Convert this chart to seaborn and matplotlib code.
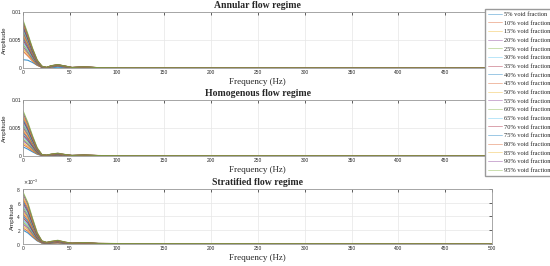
"""
Amplitude spectra of the pressure signal for three flow regimes.
"""

import matplotlib
matplotlib.use("Agg")
import matplotlib.pyplot as plt
import matplotlib.ticker as mticker
import seaborn as sns
import pandas as pd

# frequency sample points (Hz)
freq = [0, 5, 10, 15, 20, 25, 30, 37, 45, 52, 65, 80, 110, 500]

void_labels = [f"{v}% void fraction" for v in range(5, 100, 5)]

# amplitudes in units of 1e-4, one row per void fraction (5% ... 95%)
annular = [
    [15, 14.0, 10.0, 5.0, 1.5, 0.3, 0.8, 1.5, 0.8, 0.2, 0.4, 0.1, 0.1, 0.0],
    [30, 21.6, 12.6, 5.1, 1.2, 0.5, 2.0, 3.5, 2.0, 0.5, 1.0, 0.4, 0.2, 0.1],
    [34, 24.5, 14.3, 5.8, 1.4, 0.5, 2.2, 3.7, 2.1, 0.5, 1.1, 0.4, 0.2, 0.1],
    [38, 27.4, 16.0, 6.5, 1.5, 0.6, 2.4, 3.9, 2.2, 0.6, 1.2, 0.4, 0.2, 0.1],
    [42, 30.2, 17.6, 7.1, 1.7, 0.6, 2.6, 4.1, 2.3, 0.6, 1.3, 0.5, 0.2, 0.1],
    [46, 33.1, 19.3, 7.8, 1.8, 0.7, 2.8, 4.3, 2.4, 0.7, 1.4, 0.5, 0.2, 0.1],
    [50, 36.0, 21.0, 8.5, 2.0, 0.7, 3.0, 4.5, 2.5, 0.7, 1.5, 0.5, 0.3, 0.1],
    [54, 38.9, 22.7, 9.2, 2.2, 0.8, 3.2, 4.7, 2.6, 0.8, 1.6, 0.6, 0.3, 0.1],
    [57, 41.0, 23.9, 9.7, 2.3, 0.8, 3.3, 4.9, 2.7, 0.8, 1.7, 0.6, 0.3, 0.1],
    [60, 43.2, 25.2, 10.2, 2.4, 0.9, 3.4, 5.0, 2.8, 0.8, 1.7, 0.6, 0.3, 0.1],
    [63, 45.4, 26.5, 10.7, 2.5, 0.9, 3.5, 5.2, 2.9, 0.9, 1.8, 0.6, 0.3, 0.1],
    [66, 47.5, 27.7, 11.2, 2.6, 0.9, 3.6, 5.3, 3.0, 0.9, 1.8, 0.7, 0.3, 0.1],
    [69, 49.7, 29.0, 11.7, 2.8, 1.0, 3.7, 5.5, 3.1, 0.9, 1.9, 0.7, 0.3, 0.1],
    [72, 51.8, 30.2, 12.2, 2.9, 1.0, 3.8, 5.6, 3.2, 1.0, 1.9, 0.7, 0.3, 0.1],
    [75, 54.0, 31.5, 12.8, 3.0, 1.0, 3.9, 5.8, 3.3, 1.0, 2.0, 0.7, 0.3, 0.1],
    [78, 56.2, 32.8, 13.3, 3.1, 1.1, 4.0, 5.9, 3.4, 1.0, 2.0, 0.8, 0.3, 0.1],
    [80, 57.6, 33.6, 13.6, 3.2, 1.1, 4.1, 6.0, 3.5, 1.1, 2.1, 0.8, 0.4, 0.1],
    [82, 59.0, 34.4, 13.9, 3.3, 1.1, 4.2, 6.1, 3.5, 1.1, 2.1, 0.8, 0.4, 0.1],
    [85, 61.2, 35.7, 14.5, 3.4, 1.2, 4.3, 6.3, 3.6, 1.1, 2.2, 0.8, 0.4, 0.1],
]

homogenous = [
    [16, 12.0, 7.2, 2.9, 0.5, 0.2, 0.6, 1.0, 0.5, 0.2, 0.3, 0.1, 0.1, 0.0],
    [20, 15.0, 9.0, 3.6, 0.6, 0.3, 0.8, 1.2, 0.6, 0.2, 0.4, 0.2, 0.1, 0.0],
    [23, 17.3, 10.4, 4.1, 0.7, 0.3, 0.9, 1.4, 0.7, 0.2, 0.5, 0.2, 0.1, 0.0],
    [27, 20.3, 12.2, 4.9, 0.8, 0.4, 1.1, 1.6, 0.8, 0.3, 0.5, 0.2, 0.1, 0.0],
    [30, 22.5, 13.5, 5.4, 0.9, 0.5, 1.2, 1.8, 0.9, 0.3, 0.6, 0.2, 0.1, 0.0],
    [34, 25.5, 15.3, 6.1, 1.0, 0.5, 1.4, 2.0, 1.0, 0.3, 0.7, 0.3, 0.1, 0.0],
    [37, 27.8, 16.7, 6.7, 1.1, 0.6, 1.5, 2.2, 1.1, 0.4, 0.7, 0.3, 0.1, 0.0],
    [41, 30.8, 18.5, 7.4, 1.2, 0.6, 1.6, 2.5, 1.2, 0.4, 0.8, 0.3, 0.2, 0.0],
    [44, 33.0, 19.8, 7.9, 1.3, 0.7, 1.8, 2.6, 1.3, 0.4, 0.9, 0.4, 0.2, 0.0],
    [48, 36.0, 21.6, 8.6, 1.4, 0.7, 1.9, 2.9, 1.4, 0.5, 1.0, 0.4, 0.2, 0.0],
    [51, 38.3, 23.0, 9.2, 1.5, 0.8, 2.0, 3.1, 1.5, 0.5, 1.0, 0.4, 0.2, 0.1],
    [55, 41.3, 24.8, 9.9, 1.7, 0.8, 2.2, 3.3, 1.7, 0.6, 1.1, 0.4, 0.2, 0.1],
    [58, 43.5, 26.1, 10.4, 1.7, 0.9, 2.3, 3.5, 1.7, 0.6, 1.2, 0.5, 0.2, 0.1],
    [62, 46.5, 27.9, 11.2, 1.9, 0.9, 2.5, 3.7, 1.9, 0.6, 1.2, 0.5, 0.2, 0.1],
    [65, 48.8, 29.3, 11.7, 2.0, 1.0, 2.6, 3.9, 2.0, 0.7, 1.3, 0.5, 0.3, 0.1],
    [69, 51.8, 31.1, 12.4, 2.1, 1.0, 2.8, 4.1, 2.1, 0.7, 1.4, 0.6, 0.3, 0.1],
    [72, 54.0, 32.4, 13.0, 2.2, 1.1, 2.9, 4.3, 2.2, 0.7, 1.4, 0.6, 0.3, 0.1],
    [76, 57.0, 34.2, 13.7, 2.3, 1.1, 3.0, 4.6, 2.3, 0.8, 1.5, 0.6, 0.3, 0.1],
    [80, 60.0, 36.0, 14.4, 2.4, 1.2, 3.2, 4.8, 2.4, 0.8, 1.6, 0.6, 0.3, 0.1],
]

stratified = [
    [20, 16.0, 10.0, 4.4, 1.2, 0.6, 1.0, 1.4, 0.7, 0.3, 0.5, 0.2, 0.1, 0.0],
    [23, 18.4, 11.5, 5.1, 1.4, 0.7, 1.2, 1.6, 0.8, 0.3, 0.6, 0.2, 0.1, 0.0],
    [26, 20.8, 13.0, 5.7, 1.6, 0.8, 1.3, 1.8, 0.9, 0.4, 0.7, 0.3, 0.1, 0.0],
    [29, 23.2, 14.5, 6.4, 1.7, 0.9, 1.5, 2.0, 1.0, 0.4, 0.7, 0.3, 0.1, 0.0],
    [32, 25.6, 16.0, 7.0, 1.9, 1.0, 1.6, 2.2, 1.1, 0.5, 0.8, 0.3, 0.2, 0.0],
    [35, 28.0, 17.5, 7.7, 2.1, 1.1, 1.8, 2.5, 1.2, 0.5, 0.9, 0.4, 0.2, 0.0],
    [38, 30.4, 19.0, 8.4, 2.3, 1.1, 1.9, 2.7, 1.3, 0.6, 1.0, 0.4, 0.2, 0.0],
    [41, 32.8, 20.5, 9.0, 2.5, 1.2, 2.1, 2.9, 1.4, 0.6, 1.0, 0.4, 0.2, 0.0],
    [44, 35.2, 22.0, 9.7, 2.6, 1.3, 2.2, 3.1, 1.5, 0.7, 1.1, 0.4, 0.2, 0.0],
    [47, 37.6, 23.5, 10.3, 2.8, 1.4, 2.4, 3.3, 1.6, 0.7, 1.2, 0.5, 0.2, 0.0],
    [50, 40.0, 25.0, 11.0, 3.0, 1.5, 2.5, 3.5, 1.8, 0.8, 1.3, 0.5, 0.3, 0.1],
    [53, 42.4, 26.5, 11.7, 3.2, 1.6, 2.7, 3.7, 1.9, 0.8, 1.3, 0.5, 0.3, 0.1],
    [56, 44.8, 28.0, 12.3, 3.4, 1.7, 2.8, 3.9, 2.0, 0.8, 1.4, 0.6, 0.3, 0.1],
    [59, 47.2, 29.5, 13.0, 3.5, 1.8, 3.0, 4.1, 2.1, 0.9, 1.5, 0.6, 0.3, 0.1],
    [62, 49.6, 31.0, 13.6, 3.7, 1.9, 3.1, 4.3, 2.2, 0.9, 1.6, 0.6, 0.3, 0.1],
    [65, 52.0, 32.5, 14.3, 3.9, 2.0, 3.3, 4.6, 2.3, 1.0, 1.6, 0.7, 0.3, 0.1],
    [68, 54.4, 34.0, 15.0, 4.1, 2.0, 3.4, 4.8, 2.4, 1.0, 1.7, 0.7, 0.3, 0.1],
    [72, 57.6, 36.0, 15.8, 4.3, 2.2, 3.6, 5.0, 2.5, 1.1, 1.8, 0.7, 0.4, 0.1],
    [75, 60.0, 37.5, 16.5, 4.5, 2.3, 3.8, 5.3, 2.6, 1.1, 1.9, 0.8, 0.4, 0.1],
]
AMP_UNIT = 1e-4

regimes = [
    ("Annular flow regime", annular, 0.01),
    ("Homogenous flow regime", homogenous, 0.01),
    ("Stratified flow regime", stratified, 0.008),
]

# MATLAB default line colours
matlab_colors = ["#0072BD", "#D95319", "#EDB120", "#7E2F8E",
                 "#77AC30", "#4DBEEE", "#A2142F"]
palette = [matlab_colors[i % 7] for i in range(len(void_labels))]

sns.set_style("white")
serif = ["Liberation Serif", "DejaVu Serif"]
sans = ["Liberation Sans", "DejaVu Sans"]
plt.rcParams["font.family"] = sans


def to_long(rows):
    recs = []
    for lab, row in zip(void_labels, rows):
        for f, a in zip(freq, row):
            recs.append({"freq": f, "amp": a * AMP_UNIT, "void": lab})
    return pd.DataFrame(recs)


fig = plt.figure(figsize=(5.5, 2.66), dpi=100)
positions = [
    [0.042, 0.744, 0.853, 0.211],
    [0.042, 0.414, 0.853, 0.211],
    [0.042, 0.083, 0.853, 0.207],
]

axes = []
for (title, rows, ymax), pos in zip(regimes, positions):
    ax = fig.add_axes(pos)
    df = to_long(rows)
    sns.lineplot(data=df, x="freq", y="amp", hue="void", palette=palette,
                 hue_order=void_labels, linewidth=0.8, alpha=0.75, ax=ax,
                 legend=False)
    ax.set_xlim(0, 500)
    ax.set_ylim(0, ymax)
    ax.set_xticks(range(0, 501, 50))
    ax.grid(True, color="#e6e6e6", linewidth=0.5)
    ax.tick_params(direction="in", length=2, width=0.5, labelsize=3.5,
                   pad=1.5, top=True, right=True, colors="#262626")
    for s in ax.spines.values():
        s.set_color("#9a9a9a")
        s.set_linewidth(0.6)
    ax.set_title(title, fontsize=7, fontweight="bold", family=serif, pad=2.5)
    ax.set_xlabel("Frequency (Hz)", fontsize=6.5, family=serif, labelpad=2)
    ax.set_ylabel("Amplitude", fontsize=4.5, labelpad=1)
    axes.append(ax)

for ax in axes[:2]:
    ax.set_yticks([0, 0.005, 0.01])
    ax.set_yticklabels(["0", "0.005", "0.01"])

fmt = mticker.ScalarFormatter(useMathText=True)
fmt.set_powerlimits((-2, 2))
axes[2].set_yticks([0, 0.002, 0.004, 0.006, 0.008])
axes[2].yaxis.set_major_formatter(fmt)
axes[2].yaxis.get_offset_text().set_fontsize(3.5)

handles = [plt.Line2D([], [], color=c, linewidth=0.6, alpha=0.45) for c in palette]
fig.legend(handles, void_labels, loc="upper left",
           bbox_to_anchor=(485 / 550, 1 - 9 / 266), frameon=True,
           prop={"family": serif, "size": 4.6}, labelspacing=0.5,
           handlelength=2.3, handletextpad=0.25, borderpad=0.4,
           borderaxespad=0, fancybox=False, edgecolor="#9a9a9a", framealpha=1)

plt.savefig("out.png", dpi=100)
plt.close()
